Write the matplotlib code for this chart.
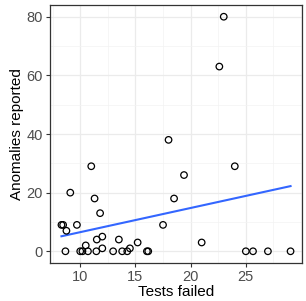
import numpy as np
import matplotlib
matplotlib.use("Agg")
import matplotlib.pyplot as plt
from matplotlib.ticker import MultipleLocator

# === DATA ===
tests_failed = [
    23.0, 22.6, 18.0, 11.0, 24.0, 19.4, 9.1, 11.3, 18.5, 11.8,
    8.3, 8.45, 9.7, 17.5, 8.75, 12.0, 11.5, 13.5, 21.0, 15.2,
    10.5, 12.0, 14.5,
    8.66, 10.0, 10.2, 10.7, 11.46, 12.98, 13.8, 14.26, 16.04, 16.16,
    25.0, 25.65, 27.0, 29.05,
]
anomalies = [
    80, 63, 38, 29, 29, 26, 20, 18, 18, 13,
    9, 9, 9, 9, 7, 5, 4, 4, 3, 3,
    2, 1, 1,
    0, 0, 0, 0, 0, 0, 0, 0, 0, 0,
    0, 0, 0, 0,
]

x = np.array(tests_failed)
y = np.array(anomalies)

plt.rcParams['font.family'] = ['Liberation Sans', 'DejaVu Sans']

fig = plt.figure(figsize=(3.06, 3.01), dpi=100)
ax = fig.add_axes([50 / 306, 38 / 301, 252 / 306, 258 / 301])

# linear fit, like geom_smooth(method="lm", se=FALSE)
slope, intercept = np.polyfit(x, y, 1)
xs = np.linspace(x.min(), x.max(), 50)
ax.plot(xs, slope * xs + intercept, color='#3366FF', lw=1.5, zorder=3)

ax.scatter(x, y, s=22, facecolors='none', edgecolors='black', linewidths=0.9, zorder=4)

# ggplot-style 5% expansion
xr = x.max() - x.min()
ax.set_xlim(x.min() - 0.05 * xr, x.max() + 0.05 * xr)
ax.set_ylim(-4, 84)

ax.xaxis.set_major_locator(MultipleLocator(5))
ax.xaxis.set_minor_locator(MultipleLocator(2.5))
ax.yaxis.set_major_locator(MultipleLocator(20))
ax.yaxis.set_minor_locator(MultipleLocator(10))
ax.set_xticks([10, 15, 20, 25])

ax.grid(which='major', color='#EBEBEB', lw=0.9, zorder=0)
ax.grid(which='minor', color='#F3F3F3', lw=0.5, zorder=0)
ax.set_axisbelow(True)

for sp in ax.spines.values():
    sp.set_color('#333333')
    sp.set_linewidth(0.9)

ax.tick_params(which='major', length=3, width=0.8, color='#333333',
               labelsize=10.5, labelcolor='#4D4D4D', pad=2)
ax.tick_params(which='minor', length=0)

ax.set_xlabel('Tests failed', fontsize=11, color='black', labelpad=1)
ax.set_ylabel('Anomalies reported', fontsize=11, color='black', labelpad=2)

fig.savefig('out.png', dpi=100)
